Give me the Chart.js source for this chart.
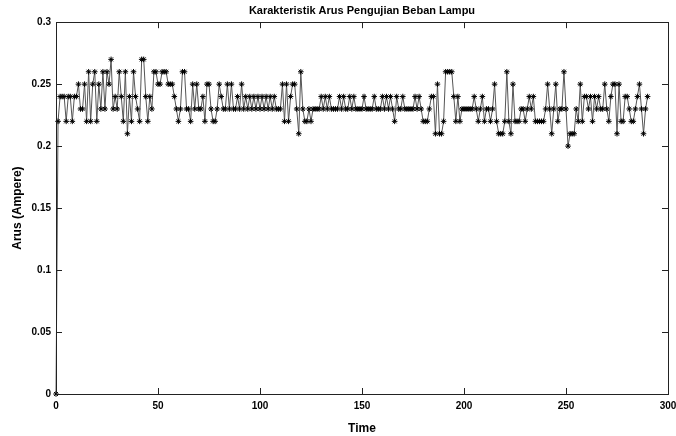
<!DOCTYPE html>
<html>
<head>
<meta charset="utf-8">
<script src="https://cdn.jsdelivr.net/npm/chart.js@4/dist/chart.umd.min.js"></script>
<style>
  body { margin: 0; background: #fff; }
</style>
</head>
<body>
<canvas id="arusChart" width="676" height="436"></canvas>
<script>
// current readings (Ampere), one per time step starting at 0
const arusValues = [
  0, 0.22, 0.24, 0.24, 0.24, 0.22, 0.24, 0.24, 0.22, 0.24,
  0.24, 0.25, 0.23, 0.23, 0.25, 0.22, 0.26, 0.22, 0.25, 0.26,
  0.22, 0.25, 0.23, 0.26, 0.23, 0.26, 0.25, 0.27, 0.23, 0.24,
  0.23, 0.26, 0.24, 0.22, 0.26, 0.21, 0.24, 0.22, 0.26, 0.24,
  0.23, 0.22, 0.27, 0.27, 0.24, 0.22, 0.24, 0.23, 0.26, 0.26,
  0.25, 0.25, 0.26, 0.26, 0.26, 0.25, 0.25, 0.25, 0.24, 0.23,
  0.22, 0.23, 0.26, 0.26, 0.23, 0.23, 0.22, 0.25, 0.23, 0.25,
  0.23, 0.23, 0.24, 0.22, 0.25, 0.25, 0.23, 0.22, 0.22, 0.23,
  0.25, 0.24, 0.23, 0.23, 0.25, 0.23, 0.25, 0.23, 0.23, 0.24,
  0.23, 0.25, 0.23, 0.24, 0.23, 0.24, 0.23, 0.24, 0.23, 0.24,
  0.23, 0.24, 0.23, 0.24, 0.23, 0.24, 0.23, 0.24, 0.23, 0.23,
  0.23, 0.25, 0.22, 0.25, 0.22, 0.24, 0.25, 0.25, 0.23, 0.21,
  0.26, 0.23, 0.22, 0.22, 0.23, 0.22, 0.23, 0.23, 0.23, 0.23,
  0.24, 0.23, 0.24, 0.23, 0.24, 0.23, 0.23, 0.23, 0.23, 0.24,
  0.23, 0.24, 0.23, 0.23, 0.24, 0.23, 0.24, 0.23, 0.23, 0.23,
  0.23, 0.24, 0.23, 0.23, 0.23, 0.23, 0.24, 0.23, 0.23, 0.23,
  0.24, 0.23, 0.24, 0.23, 0.24, 0.23, 0.22, 0.24, 0.23, 0.23,
  0.24, 0.23, 0.23, 0.23, 0.23, 0.23, 0.24, 0.23, 0.24, 0.23,
  0.22, 0.22, 0.22, 0.23, 0.24, 0.24, 0.21, 0.25, 0.21, 0.21,
  0.22, 0.26, 0.26, 0.26, 0.26, 0.24, 0.22, 0.24, 0.22, 0.23,
  0.23, 0.23, 0.23, 0.23, 0.23, 0.24, 0.23, 0.22, 0.23, 0.24,
  0.22, 0.23, 0.23, 0.22, 0.23, 0.25, 0.22, 0.21, 0.21, 0.21,
  0.22, 0.26, 0.22, 0.21, 0.25, 0.22, 0.22, 0.22, 0.23, 0.23,
  0.22, 0.23, 0.24, 0.23, 0.24, 0.22, 0.22, 0.22, 0.22, 0.22,
  0.23, 0.25, 0.23, 0.21, 0.23, 0.25, 0.22, 0.23, 0.23, 0.26,
  0.23, 0.20, 0.21, 0.21, 0.21, 0.23, 0.22, 0.25, 0.22, 0.24,
  0.24, 0.23, 0.24, 0.22, 0.24, 0.23, 0.24, 0.23, 0.23, 0.25,
  0.23, 0.22, 0.24, 0.25, 0.25, 0.21, 0.25, 0.22, 0.22, 0.24,
  0.24, 0.23, 0.22, 0.22, 0.23, 0.24, 0.25, 0.23, 0.21, 0.23, 0.24
];
const timeSteps = arusValues.map((v, i) => i);
const xTicks = [0, 50, 100, 150, 200, 250, 300];
const yTicks = [0, 0.05, 0.1, 0.15, 0.2, 0.25, 0.3];

const fontFam = "'Liberation Sans', Arial, sans-serif";
const tickFont = { family: fontFam, size: 10, weight: 'bold' };

// matlab style box with inward ticks on all four sides
const boxTicks = {
  id: 'boxTicks',
  afterDraw(chart) {
    const { ctx, chartArea: a, scales: { x, y } } = chart;
    ctx.save();
    ctx.strokeStyle = '#222';
    ctx.lineWidth = 1;
    ctx.strokeRect(Math.round(a.left) + 0.5, Math.round(a.top) + 0.5,
      Math.round(a.right - a.left), Math.round(a.bottom - a.top));
    ctx.beginPath();
    xTicks.forEach(v => {
      const px = Math.round(x.getPixelForValue(v)) + 0.5;
      ctx.moveTo(px, a.bottom); ctx.lineTo(px, a.bottom - 6);
      ctx.moveTo(px, a.top); ctx.lineTo(px, a.top + 6);
    });
    yTicks.forEach(v => {
      const py = Math.round(y.getPixelForValue(v)) + 0.5;
      ctx.moveTo(a.left, py); ctx.lineTo(a.left + 6, py);
      ctx.moveTo(a.right, py); ctx.lineTo(a.right - 6, py);
    });
    ctx.stroke();
    ctx.restore();
  }
};

const ctx = document.getElementById('arusChart').getContext('2d');
const chart = new Chart(ctx, {
  type: 'scatter',
  data: {
    datasets: [{
      label: 'Arus',
      data: timeSteps.map((t, i) => ({ x: t, y: arusValues[i] })),
      showLine: true,
      borderColor: '#555',
      borderWidth: 1,
      pointStyle: 'star',
      pointRadius: 2.8,
      pointBorderColor: '#000',
      pointBorderWidth: 1,
      pointBackgroundColor: '#000',
      clip: false
    }]
  },
  options: {
    responsive: false,
    animation: false,
    layout: { padding: { left: 0, right: 0, top: 0, bottom: 0 } },
    plugins: {
      legend: { display: false },
      tooltip: { enabled: false },
      title: {
        display: true,
        text: 'Karakteristik Arus Pengujian Beban Lampu',
        color: '#000',
        fullSize: false,
        font: { family: fontFam, size: 11, weight: 'bold' },
        padding: { top: 4, bottom: 5 }
      }
    },
    scales: {
      x: {
        type: 'linear',
        min: 0,
        max: 300,
        afterBuildTicks: s => { s.ticks = xTicks.map(v => ({ value: v })); },
        afterFit: s => { s.height = 42; s.paddingRight = 8; },
        grid: { display: false, drawTicks: false },
        border: { display: false },
        ticks: { color: '#000', font: tickFont, padding: 6, maxRotation: 0 },
        title: {
          display: true,
          text: 'Time',
          color: '#000',
          font: { family: fontFam, size: 12, weight: 'bold' },
          padding: { top: 9, bottom: 0 }
        }
      },
      y: {
        min: 0,
        max: 0.3,
        afterBuildTicks: s => { s.ticks = yTicks.map(v => ({ value: v })); },
        afterFit: s => { s.width = 56; },
        grid: { display: false, drawTicks: false },
        border: { display: false },
        ticks: {
          color: '#000', font: tickFont, padding: 5,
          callback: v => String(parseFloat(v.toFixed(2)))
        },
        title: {
          display: true,
          text: 'Arus (Ampere)',
          color: '#000',
          font: { family: fontFam, size: 12, weight: 'bold' },
          padding: { top: 10, bottom: 4 }
        }
      }
    }
  },
  plugins: [boxTicks]
});
</script>
</body>
</html>
